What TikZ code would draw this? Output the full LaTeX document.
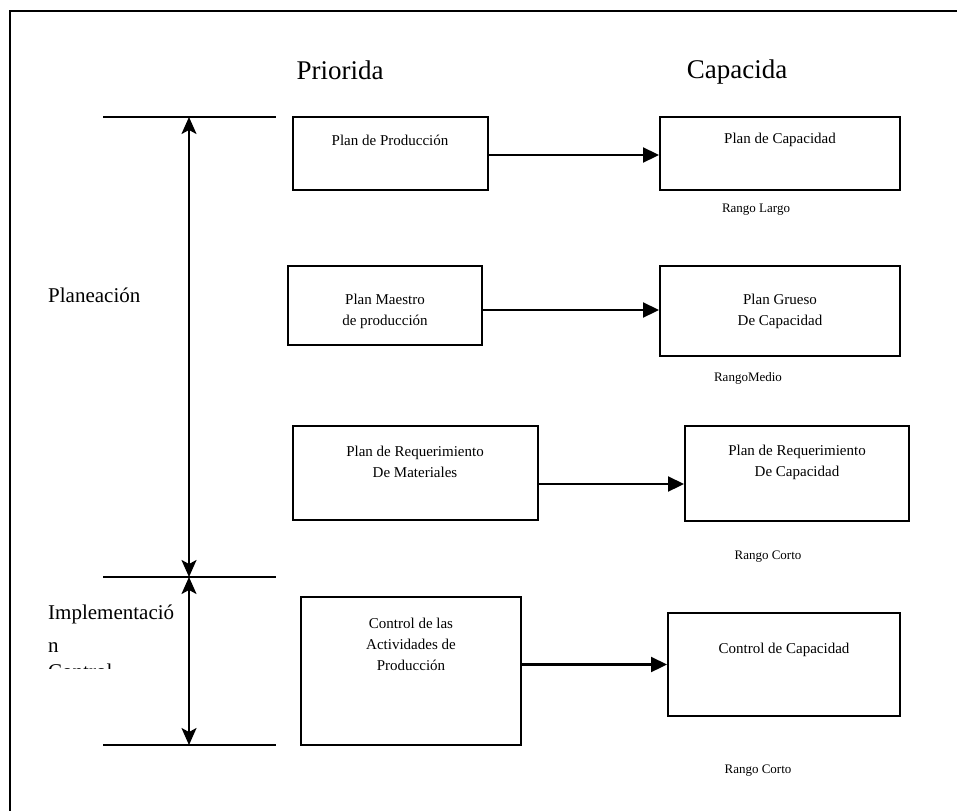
\documentclass[tikz,border=0pt]{standalone}
\usepackage{fontspec}
\setmainfont{Liberation Serif}
\usetikzlibrary{arrows.meta}
\begin{document}
\begin{tikzpicture}[x=1pt,y=-1pt,
  box/.style={draw,line width=2pt,rectangle,inner sep=0pt},
  boxtext/.style={font=\fontsize{15}{21}\selectfont,align=center,inner sep=0pt},
  rango/.style={font=\fontsize{13}{16}\selectfont,inner sep=0pt},
  side/.style={font=\fontsize{21}{24}\selectfont,align=left,inner sep=0pt,anchor=west},
  title/.style={font=\fontsize{27}{30}\selectfont,inner sep=0pt},
  flow/.style={line width=2.2pt,-{Triangle[length=16pt,width=15pt]}},
  span/.style={line width=2.2pt,{Stealth[length=17pt,width=15pt,inset=4pt]}-{Stealth[length=17pt,width=15pt,inset=4pt]}},
  level/.style={line width=2pt}]
\useasboundingbox (0,0) rectangle (957,811);
% outer frame (top and left edges)
\draw[line width=2.2pt] (957,11) -- (10,11) -- (10,811);

% column titles
\node[title] (tprio) at (340,70) {Priorida};
\node[title] (tcap) at (737,72) {Capacida};

% level markers and spans
\coordinate (l1a) at (103,117); \coordinate (l1b) at (276,117);
\coordinate (l2a) at (103,577); \coordinate (l2b) at (276,577);
\coordinate (l3a) at (103,745); \coordinate (l3b) at (276,745);
\draw[level] (l1a) -- (l1b);
\draw[level] (l2a) -- (l2b);
\draw[level] (l3a) -- (l3b);
\coordinate (v1) at (189,117); \coordinate (v2) at (189,577); \coordinate (v3) at (189,745);
\draw[span] (v1) -- (v2);
\draw[span] (v2) -- (v3);

\node[side] (plan) at (48,295) {Planeación};
\begin{scope}
  \clip (20,590) rectangle (180,668);
  \node[side,anchor=north west] (impl) at (48,605) {Implementació\\[9pt]n\\[2pt]Control};
\end{scope}

% priority boxes
\node[box,minimum width=195,minimum height=73] (pp) at (390.5,153.5) {};
\node[box,minimum width=194,minimum height=79] (pm) at (385,305.5) {};
\node[box,minimum width=245,minimum height=94] (rm) at (415.5,473) {};
\node[box,minimum width=220,minimum height=148] (ca) at (411,671) {};

% capacity boxes
\node[box,minimum width=240,minimum height=73] (pc) at (780,153.5) {};
\node[box,minimum width=240,minimum height=90] (pg) at (780,311) {};
\node[box,minimum width=224,minimum height=95] (rc) at (797,473.5) {};
\node[box,minimum width=232,minimum height=103] (cc) at (784,664.5) {};

% box texts
\node[boxtext] (ppt) at (390,140) {Plan de Producción};
\node[boxtext] (pmt) at (385,311) {Plan Maestro\\de producción};
\node[boxtext] (rmt) at (415,462) {Plan de Requerimiento\\De Materiales};
\node[boxtext] (cat) at (411,644) {Control de las\\Actividades de\\Producción};
\node[boxtext] (pct) at (780,140) {Plan de Capacidad};
\node[boxtext] (pgt) at (780,311) {Plan Grueso\\De Capacidad};
\node[boxtext] (rct) at (797,462) {Plan de Requerimiento\\De Capacidad};
\node[boxtext] (cct) at (784,650) {Control de Capacidad};

% range labels
\node[rango] (r1) at (756,210) {Rango Largo};
\node[rango] (r2) at (748,378) {RangoMedio};
\node[rango] (r3) at (768,557) {Rango Corto};
\node[rango] (r4) at (758,771) {Rango Corto};

% flows from priority to capacity
\draw[flow] ([yshift=-1.5pt]pp.east) -- ([yshift=-1.5pt]pp.east -| pc.west);
\draw[flow] ([yshift=-4.5pt]pm.east) -- ([yshift=-4.5pt]pm.east -| pg.west);
\draw[flow] ([yshift=-11pt]rm.east) -- ([yshift=-11pt]rm.east -| rc.west);
\draw[flow] (ca.east |- cc.west) -- (cc.west);
\end{tikzpicture}
\end{document}
